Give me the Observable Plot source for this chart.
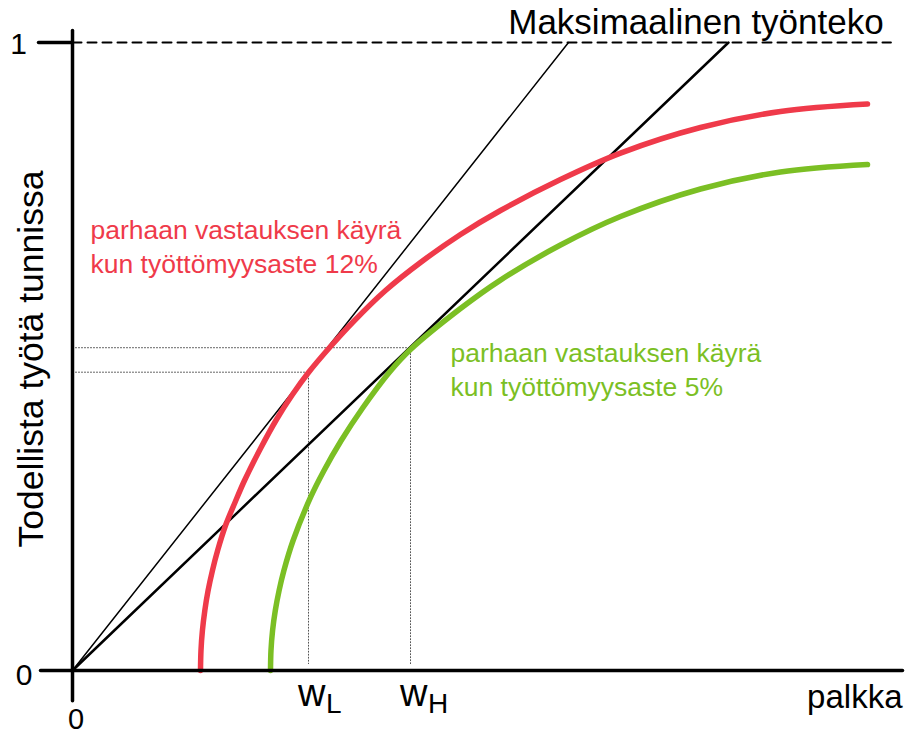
<!DOCTYPE html>
<html>
<head>
<meta charset="utf-8">
<script src="https://cdn.jsdelivr.net/npm/d3@7"></script>
<script src="https://cdn.jsdelivr.net/npm/@observablehq/plot@0.6"></script>
<style>
  html, body { margin: 0; padding: 0; background: #fff; }
  #chart svg { display: block; }
</style>
</head>
<body>
<div id="chart"></div>
<script>
// Best-response curve, unemployment 12% (wage, effort)
const redX = [16, 16.06, 16.24, 16.54, 16.95, 17.49, 18.14, 19.125, 20.31, 21.5, 23.5, 25.5, 27.5, 29.5, 32.25, 35.125, 39.125, 43.5, 48.5, 53.5, 61, 68.5, 78.5, 88.5, 99.375];
const redY = [0, 0.0318, 0.0637, 0.0955, 0.1274, 0.1592, 0.1911, 0.2309, 0.2675, 0.3025, 0.3535, 0.3997, 0.4395, 0.4745, 0.5159, 0.5557, 0.6051, 0.6497, 0.6943, 0.7325, 0.7818, 0.8239, 0.8646, 0.8901, 0.9019];
// Best-response curve, unemployment 5%
const greenX = [24.75, 24.81, 25.01, 25.35, 25.825, 26.425, 27.575, 29.75, 31.44, 33.59, 36.225, 39.59, 42.25, 48.5, 53.5, 61, 68.5, 78.5, 88.5, 99.375];
const greenY = [0, 0.0318, 0.0637, 0.0955, 0.1274, 0.1592, 0.207, 0.2755, 0.3185, 0.3662, 0.4172, 0.4745, 0.5111, 0.5764, 0.6217, 0.6775, 0.7229, 0.7667, 0.7938, 0.8057];
// Wages and chosen effort
const wageLabels = ["L", "H"];
const wages = [29.5, 42.25];
const efforts = [0.475, 0.514];
// Rays from the origin reach full effort (1) at these wages
const rayEnds = [62, 82];
const yTicks = [0, 1];

const red = "#ef3a4a";
const green = "#7bbf24";

const toPts = (xs, ys) => xs.map((x, i) => ({x, y: ys[i]}));
const redPts = toPts(redX, redY);
const greenPts = toPts(greenX, greenY);
const dotted = wages.flatMap((w, i) => [
  [{x: 0, y: efforts[i]}, {x: w, y: efforts[i]}],
  [{x: w, y: efforts[i]}, {x: w, y: 0.011}]
]);

const font = "'Liberation Sans', Arial, Helvetica, sans-serif";

const chart = Plot.plot({
  width: 911,
  height: 736,
  marginLeft: 72,
  marginRight: 39,
  marginTop: 42,
  marginBottom: 66,
  style: {fontFamily: font, background: "#fff"},
  x: {domain: [0, 100], axis: null},
  y: {domain: [0, 1], axis: null},
  marks: [
    // dotted guides
    ...dotted.map(seg => Plot.line(seg, {x: "x", y: "y", stroke: "#555", strokeWidth: 1, strokeDasharray: "1,2"})),
    // max effort dashed line
    Plot.line([{x: 0, y: 1}, {x: 102.3, y: 1}], {x: "x", y: "y", stroke: "#000", strokeWidth: 2, strokeDasharray: "9,6"}),
    // rays
    Plot.line([{x: 0, y: 0}, {x: rayEnds[0], y: 1}], {x: "x", y: "y", stroke: "#000", strokeWidth: 1.5}),
    Plot.line([{x: 0, y: 0}, {x: rayEnds[1], y: 1}], {x: "x", y: "y", stroke: "#000", strokeWidth: 2.5}),
    // curves
    Plot.line(redPts, {x: "x", y: "y", stroke: red, strokeWidth: 5.5, curve: "catmull-rom"}),
    Plot.line(greenPts, {x: "x", y: "y", stroke: green, strokeWidth: 5.5, curve: "catmull-rom"}),
    // axes
    Plot.line([{x: 0, y: -0.048}, {x: 0, y: 1.019}], {x: "x", y: "y", stroke: "#000", strokeWidth: 3.5}),
    Plot.line([{x: -4, y: 0}, {x: 103.75, y: 0}], {x: "x", y: "y", stroke: "#000", strokeWidth: 3.5}),
    Plot.line([{x: -4.25, y: 1}, {x: 0, y: 1}], {x: "x", y: "y", stroke: "#000", strokeWidth: 3.5}),
    // tick labels
    Plot.text([yTicks[1]], {x: 0, y: d => d, text: d => String(d), dx: -54, dy: 2, fontSize: 30, fill: "#000"}),
    Plot.text([yTicks[0]], {x: 0, y: d => d, text: d => String(d), dx: -48.5, dy: 5, fontSize: 30, fill: "#000"}),
    Plot.text([0], {x: d => d, y: 0, text: d => String(d), dy: 49, dx: 3.5, fontSize: 29, fill: "#000"}),
    // wage labels
    Plot.text(wages, {x: d => d, y: 0, text: () => "w", textAnchor: "start", dx: -10.5, dy: 23, fontSize: 38, fill: "#000"}),
    Plot.text(wages, {x: d => d, y: 0, text: (d, i) => wageLabels[i], textAnchor: "start", dx: 17.5, dy: 34, fontSize: 28, fill: "#000"}),
    // axis titles
    Plot.text(["palkka"], {x: 103.75, y: 0, text: d => d, textAnchor: "end", dy: 27, fontSize: 33, fill: "#000"}),
    Plot.text(["Todellista työtä tunnissa"], {x: 0, y: 0.496, text: d => d, rotate: -90, dx: -41, fontSize: 35.5, fill: "#000"}),
    Plot.text(["Maksimaalinen työnteko"], {x: 101.4, y: 1, text: d => d, textAnchor: "end", dy: -20, fontSize: 35, fill: "#000"}),
    // curve annotations
    Plot.text(["parhaan vastauksen käyrä\nkun työttömyysaste 12%"], {x: 2.25, y: 0.6768, text: d => d, textAnchor: "start", lineAnchor: "middle", lineHeight: 1.28, fontSize: 26.5, fill: red}),
    Plot.text(["parhaan vastauksen käyrä\nkun työttömyysaste 5%"], {x: 47.25, y: 0.481, text: d => d, textAnchor: "start", lineAnchor: "middle", lineHeight: 1.28, fontSize: 26.5, fill: green})
  ]
});
document.getElementById("chart").appendChild(chart);
</script>
</body>
</html>
